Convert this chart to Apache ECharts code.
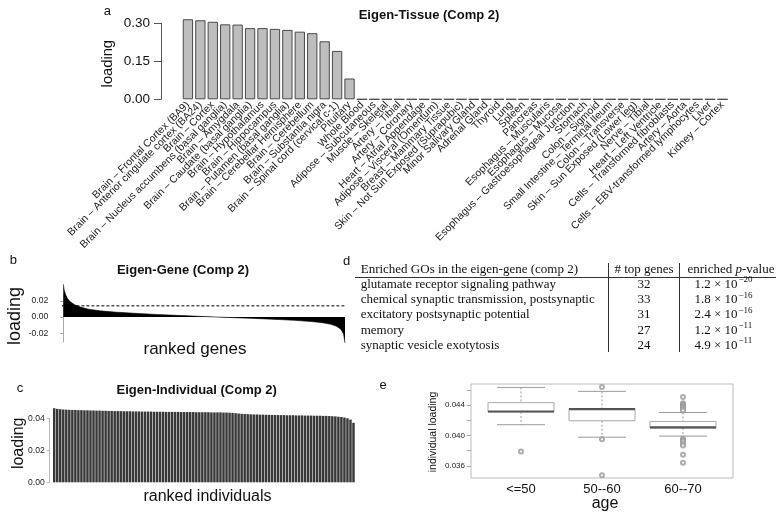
<!DOCTYPE html>
<html>
<head>
<meta charset="utf-8">
<script src="https://cdn.jsdelivr.net/npm/echarts@6/dist/echarts.min.js"></script>
<style>
  html, body { margin: 0; padding: 0; background: #fff; }
  #chart { width: 778px; height: 512px; }
</style>
</head>
<body>
<div id="chart"></div>
<script>
// panel a: tissue loadings
const tissues = [
  'Brain – Frontal Cortex (BA9)', 'Brain – Anterior cingulate cortex (BA24)', 'Brain – Cortex',
  'Brain – Nucleus accumbens (basal ganglia)', 'Brain – Amygdala', 'Brain – Caudate (basal ganglia)',
  'Brain – Hypothalamus', 'Brain – Hippocampus', 'Brain – Putamen (basal ganglia)',
  'Brain – Cerebellar Hemisphere', 'Brain – Cerebellum', 'Brain – Substantia nigra',
  'Brain – Spinal cord (cervical c-1)', 'Pituitary', 'Whole Blood', 'Adipose – Subcutaneous',
  'Muscle – Skeletal', 'Artery – Tibial', 'Artery – Coronary', 'Heart – Atrial Appendage',
  'Adipose – Visceral (Omentum)', 'Breast – Mammary Tissue', 'Skin – Not Sun Exposed (Suprapubic)',
  'Minor Salivary Gland', 'Adrenal Gland', 'Thyroid', 'Lung', 'Spleen', 'Pancreas',
  'Esophagus – Muscularis', 'Esophagus – Mucosa', 'Esophagus – Gastroesophageal Junction',
  'Stomach', 'Colon – Sigmoid', 'Small Intestine – Terminal Ileum', 'Colon – Transverse',
  'Skin – Sun Exposed (Lower leg)', 'Nerve – Tibial', 'Heart – Left Ventricle',
  'Cells – Transformed fibroblasts', 'Artery – Aorta', 'Cells – EBV-transformed lymphocytes',
  'Liver', 'Kidney – Cortex'
]
const tissueLoading = [
  0.316, 0.312, 0.306, 0.296, 0.295, 0.281, 0.281, 0.278, 0.274, 0.267, 0.261, 0.229, 0.191, 0.082,
  0, 0, 0, 0, 0, 0, 0, 0, 0, 0, 0, 0, 0, 0, 0, 0, 0, 0, 0, 0, 0, 0, 0, 0, 0, 0, 0, 0, 0, 0
]

// panel b: ranked gene loadings
const geneRankFrac = [0, 0.003, 0.008, 0.015, 0.025, 0.04, 0.06, 0.09, 0.13, 0.18, 0.25, 0.33, 0.42,
  0.5, 0.58, 0.66, 0.74, 0.82, 0.88, 0.92, 0.95, 0.97, 0.985, 0.995, 1]
const geneLoading = [0.041, 0.034, 0.028, 0.023, 0.019, 0.0155, 0.0125, 0.0098, 0.0078, 0.0063, 0.0048,
  0.0033, 0.0019, 0.0007, -0.0004, -0.0014, -0.0026, -0.004, -0.0055, -0.007, -0.009, -0.0115,
  -0.015, -0.021, -0.032]
const geneThreshold = 0.014
const geneTicks = [-0.02, 0, 0.02]

// panel c: ranked individual loadings
const individualLoading = [
  0.0463, 0.0459, 0.0457, 0.0455, 0.0454, 0.0453, 0.0452, 0.0452, 0.0451, 0.0451,
  0.0450, 0.0450, 0.0449, 0.0449, 0.0448, 0.0448, 0.0447, 0.0447, 0.0446, 0.0446,
  0.0445, 0.0445, 0.0445, 0.0444, 0.0444, 0.0444, 0.0443, 0.0443, 0.0443, 0.0442,
  0.0442, 0.0442, 0.0442, 0.0441, 0.0441, 0.0441, 0.0441, 0.0440, 0.0440, 0.0440,
  0.0440, 0.0440, 0.0439, 0.0439, 0.0439, 0.0439, 0.0439, 0.0438, 0.0438, 0.0438,
  0.0438, 0.0438, 0.0437, 0.0437, 0.0437, 0.0437, 0.0436, 0.0436, 0.0435, 0.0434,
  0.0432, 0.0430, 0.0428, 0.0427, 0.0426, 0.0425, 0.0424, 0.0424, 0.0423, 0.0423,
  0.0422, 0.0422, 0.0421, 0.0421, 0.0420, 0.0420, 0.0420, 0.0419, 0.0419, 0.0419,
  0.0418, 0.0418, 0.0418, 0.0417, 0.0417, 0.0417, 0.0416, 0.0416, 0.0416, 0.0415,
  0.0415, 0.0414, 0.0413, 0.0412, 0.0410, 0.0408, 0.0405, 0.0400, 0.0392, 0.0372
]
const individualRank = individualLoading.map((v, i) => String(i + 1))

// panel d: enriched GO terms
const goTerms = [
  'glutamate receptor signaling pathway',
  'chemical synaptic transmission, postsynaptic',
  'excitatory postsynaptic potential',
  'memory',
  'synaptic vesicle exotytosis'
]
const goTopGenes = [32, 33, 31, 27, 24]
const goPMantissa = ['1.2', '1.8', '2.4', '1.2', '4.9']
const goPExponent = ['−20', '−16', '−16', '−11', '−11']

// panel e: individual loading by age
const ageGroups = ['<=50', '50--60', '60--70']
// low whisker, Q1, median, Q3, high whisker
const boxStats = [
  [0.04143, 0.04312, 0.04317, 0.04434, 0.04635],
  [0.03978, 0.04195, 0.04348, 0.04356, 0.04583],
  [0.03993, 0.04100, 0.04108, 0.04186, 0.04304]
]
const boxOutliers = [
  [0.0379],
  [0.0464, 0.0395, 0.03475],
  [0.0451, 0.04426, 0.0441, 0.0440, 0.0438, 0.0437, 0.0435, 0.0433,
    0.03957, 0.0394, 0.0392, 0.0389, 0.0387, 0.03748, 0.0364]
]
const boxTicks = [0.036, 0.038, 0.040, 0.042, 0.044, 0.046]
const boxTickLabels = [0.036, 0.040, 0.044]

const SANS = '"Liberation Sans", Arial, sans-serif'
const SERIF = '"Liberation Serif", "Times New Roman", serif'

function txt(text, x, y, size, opts = {}) {
  return {
    type: 'text', x, y, rotation: opts.rotation || 0, silent: true,
    style: {
      text, fontSize: size, fontFamily: opts.family || SANS, fontWeight: opts.weight || 'normal',
      fill: opts.color || '#111', align: opts.align || 'center', textAlign: opts.align || 'center',
      verticalAlign: 'middle', textVerticalAlign: 'middle', rich: opts.rich
    }
  }
}

function renderBox(params, api) {
  const i = api.value(0)
  const lo = api.coord([i, api.value(1)])
  const q1 = api.coord([i, api.value(2)])
  const md = api.coord([i, api.value(3)])
  const q3 = api.coord([i, api.value(4)])
  const hi = api.coord([i, api.value(5)])
  const cx = lo[0], hw = 33, cw = 24
  const dash = { stroke: '#9a9a9a', lineWidth: 1, lineDash: [2, 2] }
  const solid = { stroke: '#9a9a9a', lineWidth: 1 }
  return {
    type: 'group',
    children: [
      { type: 'line', shape: { x1: cx, y1: hi[1], x2: cx, y2: q3[1] }, style: dash },
      { type: 'line', shape: { x1: cx, y1: q1[1], x2: cx, y2: lo[1] }, style: dash },
      { type: 'line', shape: { x1: cx - cw, y1: hi[1], x2: cx + cw, y2: hi[1] }, style: solid },
      { type: 'line', shape: { x1: cx - cw, y1: lo[1], x2: cx + cw, y2: lo[1] }, style: solid },
      { type: 'rect', shape: { x: cx - hw, y: q3[1], width: 2 * hw, height: q1[1] - q3[1] },
        style: { fill: '#fff', stroke: '#aaa', lineWidth: 1 } },
      { type: 'line', shape: { x1: cx - hw, y1: md[1], x2: cx + hw, y2: md[1] },
        style: { stroke: '#555', lineWidth: 2.2 } }
    ]
  }
}

// table (panel d) as text
const rowY = goTerms.map((t, i) => 284.5 + i * 15.25)
const tableGraphics = [
  txt('Enriched GOs in the eigen-gene (comp 2)', 360.7, 270, 13, { family: SERIF, align: 'left' }),
  txt('# top genes', 644, 270, 13, { family: SERIF }),
  txt('{n|enriched }{i|p}{n|-value}', 731, 270, 13, {
    family: SERIF,
    rich: {
      n: { fontFamily: SERIF, fontSize: 13, fill: '#111' },
      i: { fontFamily: SERIF, fontSize: 13, fontStyle: 'italic', fill: '#111' }
    }
  }),
  { type: 'line', silent: true, shape: { x1: 355, y1: 277.5, x2: 776, y2: 277.5 }, style: { stroke: '#333', lineWidth: 1 } },
  { type: 'line', silent: true, shape: { x1: 608.5, y1: 263, x2: 608.5, y2: 352 }, style: { stroke: '#333', lineWidth: 1 } },
  { type: 'line', silent: true, shape: { x1: 679.5, y1: 263, x2: 679.5, y2: 352 }, style: { stroke: '#333', lineWidth: 1 } }
]
goTerms.forEach((t, i) => {
  tableGraphics.push(txt(t, 360.7, rowY[i], 13, { family: SERIF, align: 'left' }))
  tableGraphics.push(txt(String(goTopGenes[i]), 644, rowY[i], 13, { family: SERIF }))
  tableGraphics.push(txt(goPMantissa[i] + ' × 10', 737.5, rowY[i], 13, { family: SERIF, align: 'right' }))
  tableGraphics.push(txt(goPExponent[i], 738.5, rowY[i] - 4.5, 9, { family: SERIF, align: 'left' }))
})

const chart = echarts.init(document.getElementById('chart'), null, { renderer: 'canvas' })

const option = {
  backgroundColor: '#fff',
  animation: false,
  textStyle: { fontFamily: SANS },
  grid: [
    { left: 181.7, top: 23.3, width: 547, height: 76, containLabel: false, outerBoundsMode: 'none' },
    { left: 63.3, top: 295, width: 281.7, height: 47, containLabel: false, outerBoundsMode: 'none' },
    { left: 52.7, top: 418.3, width: 302.3, height: 64, containLabel: false, outerBoundsMode: 'none' },
    { left: 480.5, top: 384, width: 243, height: 94, containLabel: false, outerBoundsMode: 'none' }
  ],
  xAxis: [
    {
      type: 'category', gridIndex: 0, data: tissues,
      axisLine: { show: false }, axisTick: { show: false },
      axisLabel: { interval: 0, rotate: 45, fontSize: 10.5, margin: 4, color: '#222', fontFamily: SANS }
    },
    { type: 'value', gridIndex: 1, min: 0, max: 1, show: false },
    { type: 'category', gridIndex: 2, data: individualRank, show: false },
    {
      type: 'category', gridIndex: 3, data: ageGroups,
      axisLine: { show: false }, axisTick: { show: false },
      axisLabel: { fontSize: 13, margin: 5, color: '#111', fontFamily: SANS }
    }
  ],
  yAxis: [
    {
      type: 'value', gridIndex: 0, min: 0, max: 0.3, interval: 0.15, offset: 20.7,
      axisLine: { show: true, lineStyle: { color: '#555' } },
      axisTick: { show: true, length: 7, lineStyle: { color: '#555' } },
      axisLabel: { fontSize: 13.5, margin: 11, color: '#111', formatter: v => v.toFixed(2) },
      splitLine: { show: false }
    },
    {
      type: 'value', gridIndex: 1, min: -0.031, max: 0.0275, offset: 10,
      axisLine: { show: true, lineStyle: { color: '#aaa' } },
      axisTick: { show: true, length: 3, customValues: geneTicks, lineStyle: { color: '#aaa' } },
      axisLabel: { fontSize: 8.6, margin: 5, color: '#222', customValues: geneTicks, formatter: v => v.toFixed(2) },
      splitLine: { show: false }
    },
    {
      type: 'value', gridIndex: 2, min: 0, max: 0.04, interval: 0.02, offset: 3,
      axisLine: { show: true, lineStyle: { color: '#bbb' } },
      axisTick: { show: true, length: 3, lineStyle: { color: '#bbb' } },
      axisLabel: { fontSize: 8.6, margin: 5, color: '#222', formatter: v => v.toFixed(2) },
      splitLine: { show: false }
    },
    {
      type: 'value', gridIndex: 3, min: 0.0344, max: 0.0468, offset: 9.5,
      axisLine: { show: false },
      axisTick: { show: true, length: 4.3, customValues: boxTicks, lineStyle: { color: '#aaa' } },
      axisLabel: { fontSize: 8, margin: 6, color: '#222', customValues: boxTickLabels, formatter: v => v.toFixed(3) },
      splitLine: { show: false }
    }
  ],
  series: [
    {
      type: 'bar', xAxisIndex: 0, yAxisIndex: 0, data: tissueLoading, clip: false,
      barCategoryGap: '17%',
      itemStyle: { color: '#bebebe', borderColor: '#4a4a4a', borderWidth: 1 }
    },
    {
      type: 'line', xAxisIndex: 1, yAxisIndex: 1, clip: false, symbol: 'none',
      data: geneRankFrac.map((f, i) => [f, geneLoading[i]]),
      lineStyle: { color: '#000', width: 0.6 },
      areaStyle: { color: '#000', opacity: 1 }
    },
    {
      type: 'line', xAxisIndex: 1, yAxisIndex: 1, clip: false, symbol: 'none',
      data: [[-0.06, geneThreshold], [1.03, geneThreshold]],
      lineStyle: { color: '#000', width: 1, type: [3, 2] }
    },
    {
      type: 'bar', xAxisIndex: 2, yAxisIndex: 2, data: individualLoading, clip: false,
      barCategoryGap: '18%',
      itemStyle: { color: '#383838' }
    },
    {
      type: 'custom', xAxisIndex: 3, yAxisIndex: 3, renderItem: renderBox,
      data: boxStats.map((s, i) => [i, ...s]),
      encode: { x: 0, y: [1, 2, 3, 4, 5] }
    },
    {
      type: 'scatter', xAxisIndex: 3, yAxisIndex: 3, symbol: 'emptyCircle', symbolSize: 4,
      data: boxOutliers.flatMap((list, i) => list.map(v => [i, v])),
      itemStyle: { color: '#999', borderColor: '#999', borderWidth: 0.8 }
    }
  ],
  graphic: [
    // panel letters
    txt('a', 107.3, 11, 13),
    txt('b', 13.3, 260, 13),
    txt('c', 20, 388.3, 13),
    txt('d', 346.7, 261.7, 13),
    txt('e', 383, 385, 13),
    // panel titles
    txt('Eigen-Tissue (Comp 2)', 429, 15, 13, { weight: 'bold' }),
    txt('Eigen-Gene (Comp 2)', 183, 270, 13, { weight: 'bold' }),
    txt('Eigen-Individual (Comp 2)', 196.7, 390, 13, { weight: 'bold' }),
    // axis titles
    txt('loading', 108.3, 63.7, 14.7, { rotation: Math.PI / 2 }),
    txt('loading', 15, 316, 18, { rotation: Math.PI / 2 }),
    txt('ranked genes', 195, 349, 17),
    txt('loading', 18.3, 443.3, 16, { rotation: Math.PI / 2 }),
    txt('ranked individuals', 207.5, 496.7, 16),
    txt('individual loading', 433, 432, 10.5, { rotation: Math.PI / 2 }),
    txt('age', 605, 503.3, 16),
    // frame of panel e
    { type: 'rect', silent: true, shape: { x: 471, y: 384, width: 262, height: 94 },
      style: { fill: 'none', stroke: '#bbb', lineWidth: 1 }, z: -1 },
    ...tableGraphics
  ]
}

chart.setOption(option)
</script>
</body>
</html>
